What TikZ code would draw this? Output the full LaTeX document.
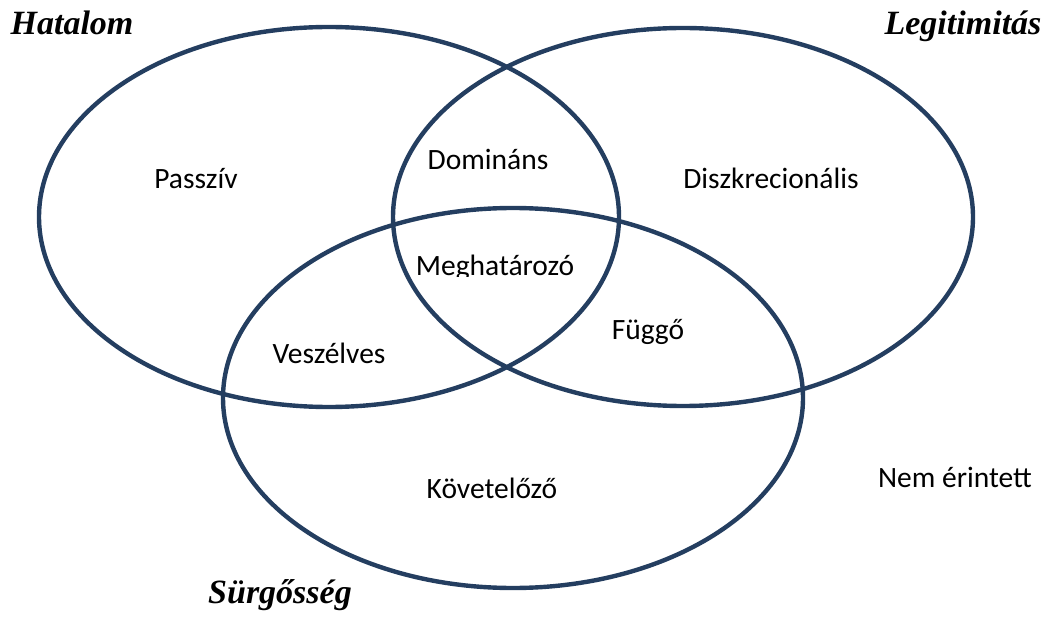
\documentclass[tikz,border=0pt]{standalone}
\usepackage{fontspec}
\setmainfont{Carlito}
\newfontfamily\titlefont{Liberation Serif}
\definecolor{venn}{RGB}{36,62,96}
\begin{document}
\begin{tikzpicture}[x=1pt,y=-1pt,
  ring/.style={draw=venn,line width=4.4pt},
  lbl/.style={anchor=base,inner sep=0pt,font=\fontsize{29.5}{31}\selectfont},
  ttl/.style={anchor=base,inner sep=0pt,font=\titlefont\bfseries\itshape\fontsize{34}{36}\selectfont}]
\useasboundingbox (0,0) rectangle (1046,617);
\draw[ring] (329,217) ellipse [x radius=290,y radius=190];
\draw[ring] (683,217) ellipse [x radius=290,y radius=189];
\draw[ring] (513,398) ellipse [x radius=290,y radius=190];
\node[ttl] (hat) at (72,35) {Hatalom};
\node[ttl] (leg) at (963,35) {Legitimitás};
\node[ttl] (sur) at (280,603) {Sürgősség};
\node[lbl] (pas) at (196,189) {Passzív};
\node[lbl] (dom) at (488,170) {Domináns};
\node[lbl] (dis) at (771,189) {Diszkrecionális};
\begin{scope}
\clip (380,240) rectangle (620,276.5);
\node[lbl] (meg) at (495,276) {Meghatározó};
\end{scope}
\node[lbl] (fug) at (648,340) {Függő};
\node[lbl] (vesz) at (329,363) {Veszélves};
\node[lbl] (kov) at (492,498) {Követelőző};
\node[lbl] (nem) at (955,487) {Nem érintett};
\end{tikzpicture}
\end{document}
